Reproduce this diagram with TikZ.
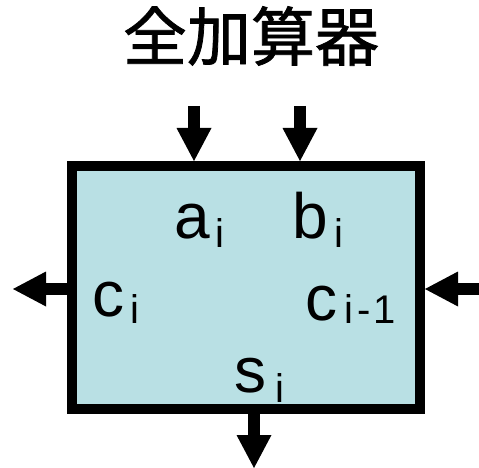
\documentclass[tikz,border=0pt]{standalone}
\usepackage{fontspec}
\setmainfont{Liberation Sans}
\newfontfamily\cjk[FakeBold=1.2]{Noto Sans CJK JP}
\usetikzlibrary{arrows.meta}
\definecolor{boxfill}{RGB}{185,224,228}
\begin{document}
\begin{tikzpicture}[x=1pt,y=-1pt,
  bigarrow/.style={line width=12pt,-{Triangle[width=35pt,length=33pt,line width=0pt]}},
  lbl/.style={inner sep=0pt,anchor=base,font=\fontsize{64}{64}\selectfont},
  sublbl/.style={inner sep=0pt,anchor=base,font=\fontsize{40}{40}\selectfont},
  adder/.style={draw=black,line width=10pt,fill=boxfill,minimum width=348pt,minimum height=243pt,inner sep=0pt}]
\useasboundingbox (0,0) rectangle (479,468);
\node[font=\cjk\fontsize{64}{64}\selectfont,inner sep=0pt] (title) at (251,36) {全加算器};
\node[adder] (box) at (246,287.5) {};
% labels
\node[lbl] (a) at (192,238) {a};
\node[sublbl] (ai) at (219.5,247) {i};
\node[lbl] (b) at (310,238) {b};
\node[sublbl] (bi) at (338.5,247) {i};
\node[lbl] (c) at (108.5,316) {c};
\node[sublbl] (ci) at (134.5,323) {i};
\node[lbl] (cp) at (321,320) {c};
\node[sublbl] (cpi) at (348.5,323) {i};
\node[sublbl] (cpm) at (364.5,323) {-};
\node[sublbl] (cp1) at (384.5,323) {1};
\node[lbl] (s) at (250.5,392) {s};
\node[sublbl] (si) at (279.5,402) {i};
% arrow free ends
\coordinate (ain) at (194,106);
\coordinate (bin) at (300,106);
\coordinate (cout) at (13,289);
\coordinate (cin) at (479,289);
\coordinate (sout) at (254,468);
\draw[bigarrow] (ain) -- (ain |- box.north);
\draw[bigarrow] (bin) -- (bin |- box.north);
\draw[bigarrow] (box.west |- cout) -- (cout);
\draw[bigarrow] (cin) -- (box.east |- cin);
\draw[bigarrow] (box.south -| sout) -- (sout);
\end{tikzpicture}
\end{document}
